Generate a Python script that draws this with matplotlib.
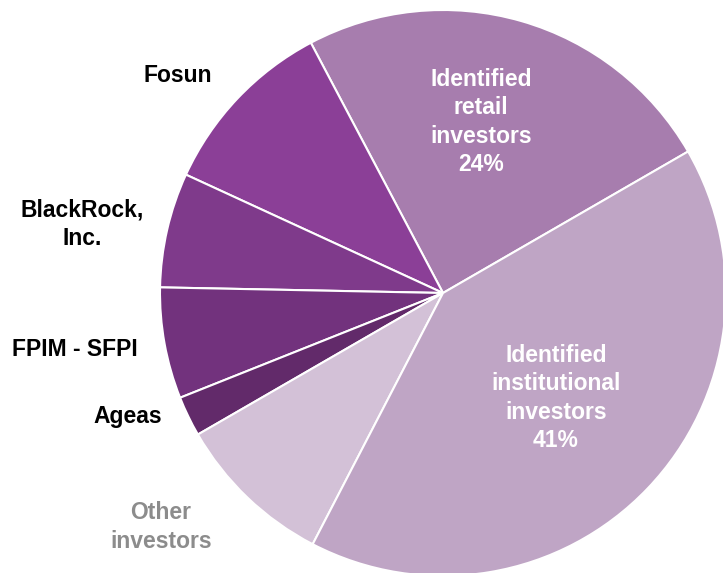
import matplotlib
matplotlib.use("Agg")
import matplotlib.pyplot as plt

# ----------------------------
# Data (shareholding structure, % of shares)
# ----------------------------
categories = ["Identified retail investors", "Fosun", "BlackRock, Inc.",
              "FPIM - SFPI", "Ageas", "Other investors",
              "Identified institutional investors"]
shares = [24.4, 10.4, 6.55, 6.35, 2.3, 9.05, 40.95]
colors = ["#A77DAE", "#8B3F97", "#7F3A8B", "#72327D", "#622A6A",
          "#D3C1D7", "#BFA5C5"]

plt.rcParams['font.family'] = ['Liberation Sans', 'DejaVu Sans']

W, H = 723, 573
fig = plt.figure(figsize=(W / 100, H / 100), dpi=100)
ax = fig.add_axes([0, 0, 1, 1])

cx, cy, r = 443, H - 293, 283
ax.pie(shares, colors=colors, startangle=30.0, counterclock=True,
       center=(cx, cy), radius=r, frame=True,
       wedgeprops=dict(edgecolor='white', linewidth=1.5))
ax.set_xlim(0, W)
ax.set_ylim(0, H)
ax.set_aspect('equal')
ax.axis('off')

def label(x, y, s, color='black'):
    # x, y in image pixels (y from top)
    ax.text(x, H - y, s, ha='center', va='center', fontsize=16.5,
            fontweight='bold', color=color, linespacing=1.28)

label(178, 75, "Fosun")
label(82, 224, "BlackRock,\nInc.")
label(75, 349, "FPIM - SFPI")
label(128, 417, "Ageas")
label(161, 527, "Other\ninvestors", color="#8C8C8C")
label(481, 122, "Identified\nretail\ninvestors\n24%", color="white")
label(556, 398, "Identified\ninstitutional\ninvestors\n41%", color="white")

fig.savefig("out.png", dpi=100)
